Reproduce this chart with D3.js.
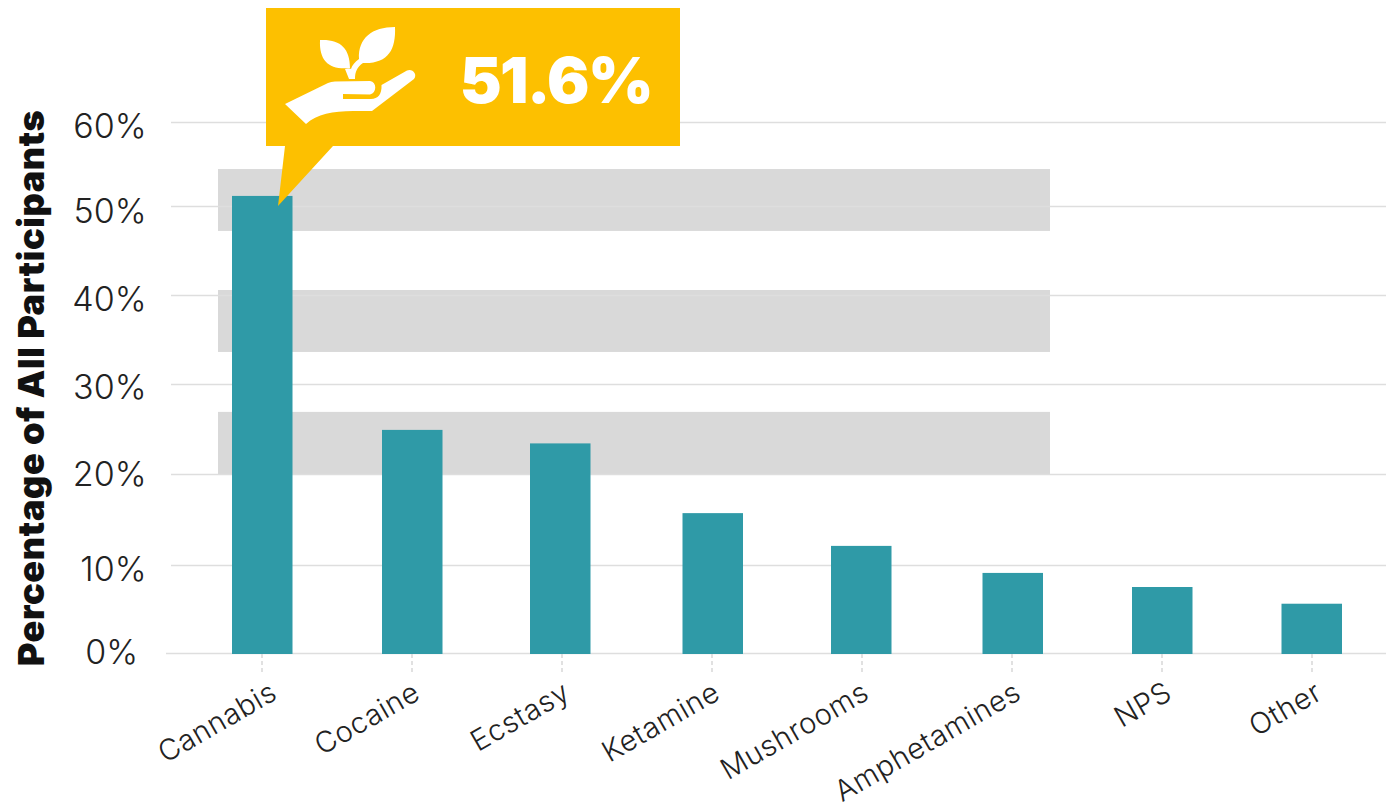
<!DOCTYPE html>
<html><head><meta charset="utf-8"><script src="https://cdnjs.cloudflare.com/ajax/libs/d3/7.8.5/d3.min.js"></script>
<style>html,body{margin:0;background:#fff}svg{display:block}text{font-family:Inter,"Open Sans",sans-serif}</style></head><body><svg width="1386" height="808"></svg>
<script>
const categories=["Cannabis","Cocaine","Ecstasy","Ketamine","Mushrooms","Amphetamines","NPS","Other"];
const values=[51.2,24.9,23.4,15.7,12.1,9.1,7.5,5.6];
const ticks=[0,10,20,30,40,50,60];
const calloutLabel="51.6%";
const gridY=[653,565,474,384,295,206,122];
const bandRanges=[[20,26.9],[33.6,40.56],[47.2,54.4]];
const labelShift=[17,10,10,10,9,11,12,12];
const barShift=[0,0,-2,0.5,-1,0.5,0,-0.5];
const tickDy=[11,16,12,15,16,17,16];
const svg=d3.select("svg");
const y=d3.scaleLinear().domain(ticks).range(gridY);
const x=d3.scalePoint().domain(categories).range([262,1312]);
bandRanges.forEach(b=>svg.append("rect").attr("x",218).attr("width",832).attr("y",y(b[1])).attr("height",y(b[0])-y(b[1])).attr("fill","#d9d9d9"));
ticks.forEach((t,i)=>{svg.append("line").attr("x1",t==0?166:171).attr("x2",1386).attr("y1",y(t)+.5).attr("y2",y(t)+.5).attr("stroke","#dedede").attr("stroke-width",1.5);
svg.append("text").attr("x",t==0?138:146.500).attr("y",y(t)+tickDy[i]).attr("text-anchor","end").attr("font-size",34).attr("font-weight",300).attr("fill","#222").text(t+"%");});
svg.selectAll(".b").data(categories).join("rect").attr("x",(d,i)=>x(d)-30+barShift[i]).attr("width",60.5).attr("y",(d,i)=>y(values[i])).attr("height",(d,i)=>y(0)+1-y(values[i])).attr("fill","#2f9aa7");
categories.forEach((c,i)=>{svg.append("line").attr("x1",x(c)).attr("x2",x(c)).attr("y1",654).attr("y2",672).attr("stroke","#d8d8d8").attr("stroke-width",1.5).attr("stroke-dasharray","4 3");
svg.append("text").attr("transform",`translate(${x(c)+labelShift[i]},${698}) rotate(-30)`).attr("text-anchor","end").attr("font-size",29).attr("font-weight",300).attr("letter-spacing",.6).attr("fill","#222").text(c);});
svg.append("text").attr("transform","translate(44,388) rotate(-90)").attr("text-anchor","middle").attr("font-size",36).attr("font-weight",900).attr("letter-spacing",.6).attr("fill","#111").text("Percentage of All Participants");
svg.append("path").attr("d","M266 8H680V146H333L278 206L285 146H266Z").attr("fill","#fdc000");
svg.append("text").attr("x",556).attr("y",103).attr("text-anchor","middle").attr("font-size",63).attr("font-weight",900).attr("letter-spacing",-1.5).attr("fill","#fff").text(calloutLabel);
svg.append("path").attr("fill","#fff").attr("d","M285 104L328 83Q331 81.500 335 81.500L370 81C377 82 377 93 370 94.500L343 94V99L371 99C378 99 382 94 381.500 85L407 70.500C412 68 418 74 414 79L372 111L353 111C333 111 317 114 306 124Z");
svg.append("path").attr("fill","#fff").attr("d","M320 40C340 39 350 48 350 68C330 70 319 62 320 40ZM395 27C372 27 358 38 359 59C355 62 352 65 351 69C348 68 347 69 345 69L349 79H355C355 72 357 67 363 63C388 64 396 50 395 27Z");
</script></body></html>
